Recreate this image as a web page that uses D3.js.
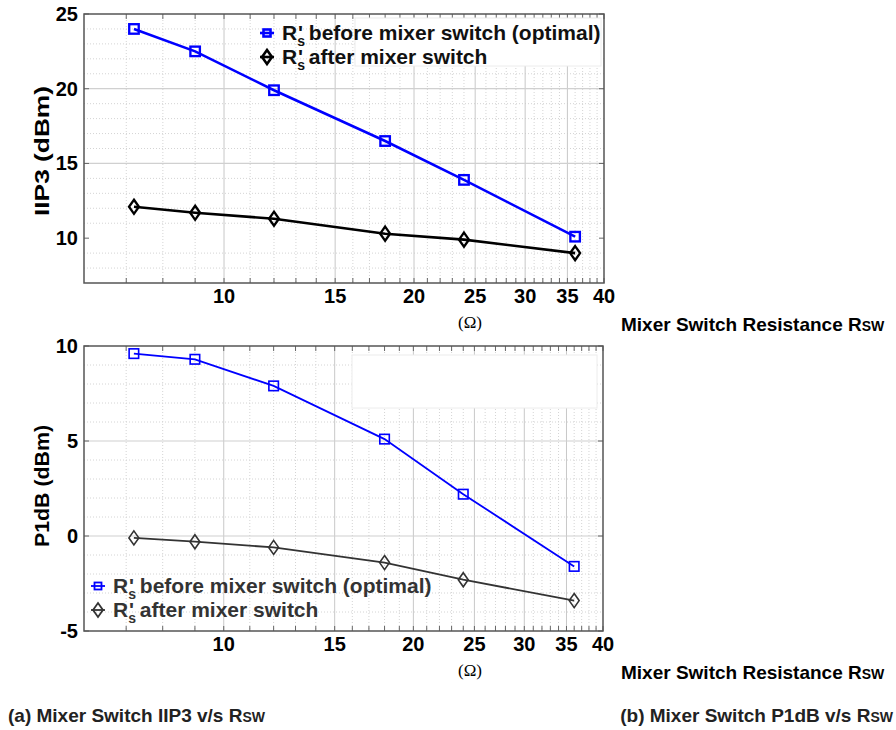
<!DOCTYPE html>
<html>
<head>
<meta charset="utf-8">
<script src="https://cdn.jsdelivr.net/npm/d3@7"></script>
<style>
  body { margin: 0; background: #fff; }
  svg { display: block; font-family: "Liberation Sans", Arial, sans-serif; }
</style>
</head>
<body>
<svg id="canvas" width="896" height="730"></svg>
<script>
// switch resistance (ohm)
var rsw = [7.2, 9, 12, 18, 24, 36];

var iip3Before = [24, 22.5, 19.9, 16.5, 13.9, 10.1];
var iip3After = [12.1, 11.7, 11.3, 10.3, 9.9, 9.0];

var p1dbBefore = [9.6, 9.3, 7.9, 5.1, 2.2, -1.6];
var p1dbAfter = [-0.1, -0.3, -0.6, -1.4, -2.3, -3.4];

var xTicks = [10, 15, 20, 25, 30, 35, 40];
var iip3Ticks = [10, 15, 20, 25];
var p1dbTicks = [-5, 0, 5, 10];
var seriesNames = ["before mixer switch (optimal)", "after mixer switch"];

var svg = d3.select('#canvas');

function legendLabel(g, x, y, name, fill) {
    var t = g.append('text')
        .attr('x', x).attr('y', y)
        .attr('font-size', 21).attr('font-weight', 'bold')
        .attr('fill', fill);
    t.append('tspan').text('R');
    t.append('tspan').attr('font-size', 14).attr('dy', 6).text('s');
    t.append('tspan').attr('dx', -7).attr('dy', -6).text("'");
    t.append('tspan').text(' ' + name);
}

function marker(g, type, x, y, size, color, sw) {
    if (type === 'square') {
        g.append('rect')
            .attr('x', x - size / 2).attr('y', y - size / 2)
            .attr('width', size).attr('height', size)
            .attr('fill', 'none').attr('stroke', color).attr('stroke-width', sw);
    } else {
        var w = size * 0.45, h = size * 0.64;
        g.append('path')
            .attr('d', 'M' + x + ',' + (y - h) + 'L' + (x + w) + ',' + y + 'L' + x + ',' + (y + h) + 'L' + (x - w) + ',' + y + 'Z')
            .attr('fill', 'none').attr('stroke', color).attr('stroke-width', sw);
    }
}

function drawPanel(p) {
    var g = svg.append('g');
    var x = d3.scaleLog().domain([6, 40]).range([p.left, p.right]);
    var y = d3.scaleLinear().domain(p.yDomain).range([p.bottom, p.top]);

    // minor grid
    var minorX = d3.range(7, 40).filter(function(d) { return xTicks.indexOf(d) < 0; });
    var minorY = d3.range(p.yDomain[0] + 1, p.yDomain[1]).filter(function(d) { return p.yTicks.indexOf(d) < 0; });

    g.selectAll('.mx').data(minorX).enter().append('line')
        .attr('x1', x).attr('x2', x).attr('y1', p.top).attr('y2', p.bottom)
        .attr('stroke', '#d4d4d4').attr('stroke-width', 1).attr('stroke-dasharray', '1,2');
    g.selectAll('.my').data(minorY).enter().append('line')
        .attr('x1', p.left).attr('x2', p.right).attr('y1', y).attr('y2', y)
        .attr('stroke', '#d4d4d4').attr('stroke-width', 1).attr('stroke-dasharray', '1,2');

    // major grid
    g.selectAll('.gx').data(xTicks.slice(0, -1)).enter().append('line')
        .attr('x1', x).attr('x2', x).attr('y1', p.top).attr('y2', p.bottom)
        .attr('stroke', '#c8c8c8').attr('stroke-width', 1);
    g.selectAll('.gy').data(p.yTicks.slice(1, -1)).enter().append('line')
        .attr('x1', p.left).attr('x2', p.right).attr('y1', y).attr('y2', y)
        .attr('stroke', '#d0d0d0').attr('stroke-width', 1.2);

    // ticks (inside, top and bottom)
    var allX = minorX.concat(xTicks);
    [p.bottom, p.top].forEach(function(yy, i) {
        g.selectAll('.tx' + i).data(allX).enter().append('line')
            .attr('x1', x).attr('x2', x)
            .attr('y1', yy).attr('y2', i === 0 ? yy - 5 : yy + 5)
            .attr('stroke', '#666').attr('stroke-width', 1);
    });
    [p.left, p.right].forEach(function(xx, i) {
        g.selectAll('.ty' + i).data(p.yTicks).enter().append('line')
            .attr('x1', xx).attr('x2', i === 0 ? xx + 5 : xx - 5)
            .attr('y1', y).attr('y2', y)
            .attr('stroke', '#666').attr('stroke-width', 1);
    });

    // legend boxes
    if (p.box) {
        g.append('rect')
            .attr('x', p.box[0]).attr('y', p.box[1])
            .attr('width', p.box[2]).attr('height', p.box[3])
            .attr('fill', '#fff').attr('stroke', '#ececec');
    }

    // axis box
    g.append('rect')
        .attr('x', p.left).attr('y', p.top)
        .attr('width', p.right - p.left).attr('height', p.bottom - p.top)
        .attr('fill', 'none').attr('stroke', '#555').attr('stroke-width', 1.5);

    // tick labels
    g.selectAll('.xl').data(xTicks).enter().append('text')
        .attr('x', x).attr('y', p.bottom + 20)
        .attr('text-anchor', 'middle')
        .attr('font-size', 20).attr('font-weight', 'bold')
        .text(function(d) { return d; });
    g.selectAll('.yl').data(p.yTicks).enter().append('text')
        .attr('x', p.left - 6).attr('y', function(d) { return y(d) + 7; })
        .attr('text-anchor', 'end')
        .attr('font-size', 20).attr('font-weight', 'bold')
        .text(function(d) { return d; });

    g.append('text')
        .attr('transform', 'translate(' + 49 + ',' + p.yLabelCenter + ') rotate(-90)')
        .attr('text-anchor', 'middle')
        .attr('font-size', 20).attr('font-weight', 'bold')
        .attr('textLength', p.yLabelLength).attr('lengthAdjust', 'spacingAndGlyphs')
        .text(p.yLabel);

    g.append('text')
        .attr('x', 470).attr('y', p.bottom + 45)
        .attr('text-anchor', 'middle')
        .attr('font-family', '"Liberation Serif", serif')
        .attr('font-size', 17)
        .text('(\u03a9)');

    var t = g.append('text')
        .attr('x', 621).attr('y', p.bottom + 48)
        .attr('font-size', 19).attr('font-weight', 'bold');
    t.append('tspan').text('Mixer Switch Resistance R');
    t.append('tspan').attr('font-size', 14).text('SW');

    // series
    var line = d3.line()
        .x(function(d, i) { return x(rsw[i]); })
        .y(function(d) { return y(d); });

    p.series.forEach(function(s) {
        g.append('path').datum(s.values)
            .attr('d', line)
            .attr('fill', 'none').attr('stroke', s.color).attr('stroke-width', p.lw);
        s.values.forEach(function(v, i) {
            marker(g, s.marker, x(rsw[i]), y(v), s.marker === 'square' ? 9.5 : 11, s.color, p.lw * 0.9);
        });
    });

    // legend entries
    p.series.forEach(function(s, i) {
        var ly = p.legend[1] + i * 24;
        var lx = p.legend[0];
        g.append('line')
            .attr('x1', lx - 7).attr('x2', lx + 7).attr('y1', ly).attr('y2', ly)
            .attr('stroke', s.color).attr('stroke-width', p.lw);
        marker(g, s.marker, lx, ly, s.marker === 'square' ? 7 : 11, s.color, p.lw);
        legendLabel(g, lx + 15, ly + 7, seriesNames[i], p.legendText);
    });
}

drawPanel({
    left: 84, right: 604, top: 14, bottom: 283,
    yDomain: [7, 25], yTicks: iip3Ticks,
    yLabel: 'IIP3 (dBm)', yLabelCenter: 151, yLabelLength: 130,
    lw: 2.6, legendText: '#111',
    box: [355, 18, 246, 48], legend: [267, 33],
    series: [
        { values: iip3Before, color: '#0000ff', marker: 'square' },
        { values: iip3After, color: '#000', marker: 'diamond' }
    ]
});

drawPanel({
    left: 84, right: 603, top: 346, bottom: 631,
    yDomain: [-5, 10], yTicks: p1dbTicks,
    yLabel: 'P1dB (dBm)', yLabelCenter: 486, yLabelLength: 122,
    lw: 1.8, legendText: '#333',
    box: [352, 355, 245, 53], legend: [98, 586],
    series: [
        { values: p1dbBefore, color: '#0000ff', marker: 'square' },
        { values: p1dbAfter, color: '#333', marker: 'diamond' }
    ]
});

// captions
var ca = svg.append('text').attr('x', 8).attr('y', 722)
    .attr('font-size', 19).attr('font-weight', 'bold').attr('fill', '#222');
ca.append('tspan').text('(a) Mixer Switch IIP3 v/s R');
ca.append('tspan').attr('font-size', 14).text('SW');

var cb = svg.append('text').attr('x', 893).attr('y', 722)
    .attr('text-anchor', 'end')
    .attr('font-size', 19).attr('font-weight', 'bold').attr('fill', '#222');
cb.append('tspan').text('(b) Mixer Switch P1dB v/s R');
cb.append('tspan').attr('font-size', 14).text('SW');
</script>
</body>
</html>
